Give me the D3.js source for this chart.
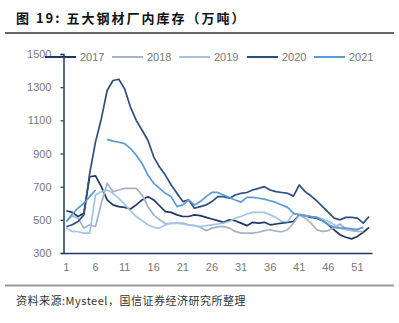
<!DOCTYPE html>
<html><head><meta charset="utf-8">
<script src="https://cdn.jsdelivr.net/npm/d3@7/dist/d3.min.js"></script>
<style>body{margin:0;background:#fff;}svg{display:block;}</style>
</head><body>
<script>
const weeks = [1,2,3,4,5,6,7,8,9,10,11,12,13,14,15,16,17,18,19,20,21,22,23,24,25,26,27,28,29,30,31,32,33,34,35,36,37,38,39,40,41,42,43,44,45,46,47,48,49,50,51,52,53];
const xTickLabels = [1,6,11,16,21,26,31,36,41,46,51];
const yTickLabels = [300,500,700,900,1100,1300,1500];
const seriesNames = ["2017","2018","2019","2020","2021"];

const v2017 = [555,545,520,540,760,765,700,620,590,580,575,565,590,620,640,620,585,550,545,530,520,520,530,525,515,505,495,485,500,495,480,465,485,480,485,470,475,480,485,490,530,525,515,510,495,470,440,410,395,385,400,425,455];
const v2018 = [490,525,510,450,470,460,600,720,670,680,690,690,690,650,580,530,500,478,478,480,480,470,465,455,435,450,458,460,450,430,420,420,420,425,435,440,432,428,440,480,530,510,480,440,430,435,455,475,445,435,430,428,null];
const v2019 = [450,430,428,420,420,650,670,680,660,630,595,555,520,495,470,455,450,470,480,478,475,470,465,460,465,470,475,480,490,510,520,535,545,545,545,530,515,490,490,535,535,525,520,515,505,490,470,450,440,440,445,455,null];
const v2020 = [458,470,490,530,780,970,1110,1280,1340,1348,1290,1180,1100,1040,980,880,818,770,710,660,610,620,570,580,590,610,640,640,630,650,660,665,680,690,700,680,670,665,660,643,710,670,645,615,580,545,510,500,515,515,510,480,520];
const v2021 = [490,535,570,600,640,680,null,985,975,968,960,930,890,840,770,720,690,660,640,580,590,620,590,610,640,665,665,650,635,620,607,635,635,630,625,615,605,590,575,540,530,525,520,515,495,470,455,450,450,445,440,455,null];
const seriesValues = [v2017, v2018, v2019, v2020, v2021];
const colors = ["#1f3864","#a6b3c3","#9fc5e8","#2d4f7e","#5b9bd5"];

const W = 399, H = 323;
const svg = d3.select("body").append("svg").attr("width", W).attr("height", H);

// title
svg.append("text").attr("x", 16).attr("y", 23)
  .attr("font-family", "'Noto Sans CJK SC', 'Liberation Sans', sans-serif")
  .attr("font-size", 13).attr("font-weight", "bold").attr("fill", "#111")
  .attr("letter-spacing", "2px")
  .text("图 19:  五大钢材厂内库存（万吨）");
svg.append("line").attr("x1", 5).attr("x2", 394).attr("y1", 33).attr("y2", 33)
  .attr("stroke", "#333").attr("stroke-width", 1.3);

// footer
svg.append("line").attr("x1", 5).attr("x2", 394).attr("y1", 285.5).attr("y2", 285.5)
  .attr("stroke", "#999").attr("stroke-width", 2);
svg.append("text").attr("x", 16).attr("y", 305)
  .attr("font-family", "'Noto Sans CJK SC', 'Liberation Sans', sans-serif")
  .attr("font-size", 11).attr("fill", "#333").attr("letter-spacing", "0.5px")
  .text("资料来源:Mysteel，国信证券经济研究所整理");

const x = d3.scaleBand().domain(weeks).range([63.5, 372]);
const xc = w => x(w) + x.bandwidth() / 2;
const y = d3.scaleLinear().domain([300, 1500]).range([253, 54]);

const font = "'Liberation Sans', Arial, sans-serif";
const axisColor = "#1f3864";

// y axis
const gy = svg.append("g").attr("transform", "translate(63.5,0)")
  .call(d3.axisLeft(y).tickValues(yTickLabels).tickSize(3).tickPadding(9).tickFormat(d3.format("d")));
gy.select(".domain").attr("stroke", axisColor).attr("stroke-width", 1.5);
gy.selectAll(".tick line").attr("stroke", axisColor).attr("stroke-width", 1.2);
gy.selectAll(".tick text").attr("font-family", font).attr("font-size", 11).attr("fill", "#777");

// x axis
const gx = svg.append("g").attr("transform", "translate(0,253)")
  .call(d3.axisBottom(x).tickValues(xTickLabels).tickSize(0).tickPadding(10).tickSizeOuter(0));
gx.select(".domain").attr("stroke", axisColor).attr("stroke-width", 1.5);
gx.selectAll(".tick text").attr("font-family", font).attr("font-size", 11).attr("fill", "#777");

// lines
const line = d3.line().defined(d => d.v != null).x(d => xc(d.w)).y(d => y(d.v)).curve(d3.curveLinear);
seriesValues.forEach((vals, i) => {
  const data = weeks.map((w, j) => ({w: w, v: vals[j] === undefined ? null : vals[j]}));
  svg.append("path").datum(data).attr("d", line)
    .attr("fill", "none").attr("stroke", colors[i]).attr("stroke-width", 1.7)
    .attr("stroke-linejoin", "round");
});

// legend
const legStart = [45, 112, 179, 247, 314];
seriesNames.forEach((n, i) => {
  const g = svg.append("g").attr("transform", `translate(${legStart[i]},57)`);
  g.append("line").attr("x1", 0).attr("x2", 31).attr("y1", 0).attr("y2", 0)
    .attr("stroke", colors[i]).attr("stroke-width", 2);
  g.append("text").attr("x", 35).attr("y", 4).attr("font-family", font)
    .attr("font-size", 11).attr("fill", "#777").text(n);
});
</script>
</body></html>
